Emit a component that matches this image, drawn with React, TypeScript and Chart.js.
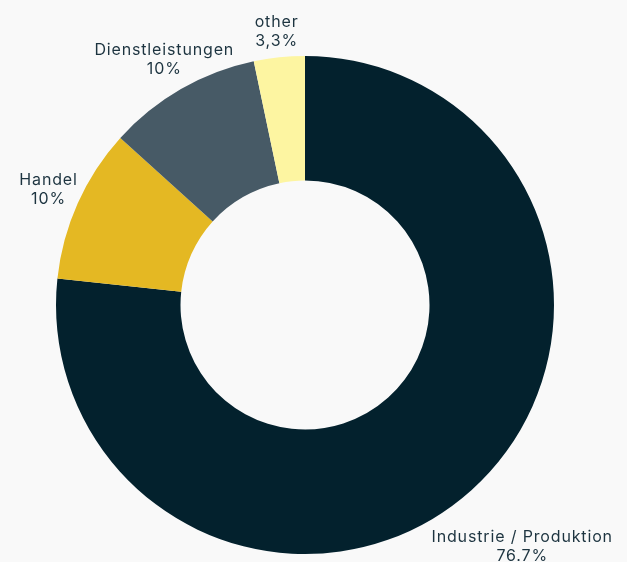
import React, { useEffect, useRef } from "react";
import { Chart, registerables } from "chart.js";

Chart.register(...registerables);

const categories = ["Industrie / Produktion", "Handel", "Dienstleistungen", "other"];
const values = [76.7, 10, 10, 3.3];
const valueLabels = ["76.7%", "10%", "10%", "3,3%"];
const colors = ["#03212d", "#e4b823", "#475a66", "#fdf5a1"];

const labelPlugin = {
  id: "outsideLabels",
  afterDraw(chart: any, _args: any, opts: any) {
    const ctx = chart.ctx;
    const meta = chart.getDatasetMeta(0);
    const fontSize = opts.fontSize || 15;
    const lineH = opts.lineHeight || 20;
    ctx.save();
    ctx.font = `${fontSize}px ${opts.fontFamily}`;
    try {
      (ctx as any).letterSpacing = opts.letterSpacing || "0px";
    } catch (e) {}
    ctx.fillStyle = opts.color;
    ctx.textAlign = "center";
    ctx.textBaseline = "middle";
    meta.data.forEach((arc: any, i: number) => {
      const p = arc.getProps(["x", "y", "startAngle", "endAngle", "outerRadius"], true);
      const mid = (p.startAngle + p.endAngle) / 2;
      const dx = Math.cos(mid);
      const dy = Math.sin(mid);
      const lines = [categories[i], valueLabels[i]];
      const h = lines.length * lineH;
      const r = p.outerRadius + ((opts.offsets && opts.offsets[i]) || 0);
      const cx = p.x + dx * r;
      const cy = p.y + dy * r;
      lines.forEach((l, k) => {
        ctx.fillText(l, cx, cy - h / 2 + lineH / 2 + k * lineH);
      });
    });
    ctx.restore();
  },
};

export default function App() {
  const ref = useRef<HTMLCanvasElement | null>(null);
  useEffect(() => {
    document.body.style.margin = "0";
    document.body.style.background = "#f9f9f9";
    const chart = new Chart(ref.current as HTMLCanvasElement, {
      type: "doughnut",
      data: {
        labels: categories,
        datasets: [
          {
            data: values,
            backgroundColor: colors,
            borderWidth: 0,
          },
        ],
      },
      options: {
        animation: false,
        responsive: false,
        cutout: "50%",
        layout: { padding: { left: 56, right: 73, top: 56, bottom: 8 } },
        plugins: {
          legend: { display: false },
          tooltip: { enabled: false },
          outsideLabels: {
            fontFamily: "Inter, 'Open Sans', sans-serif",
            fontSize: 16,
            letterSpacing: "0.85px",
            lineHeight: 19,
            color: "#1d3440",
            offsets: [76, 32, 33.5, 25.5],
          },
        } as any,
      },
      plugins: [labelPlugin],
    });
    return () => chart.destroy();
  }, []);
  return (
    <div style={{ width: 627, height: 562, background: "#f9f9f9" }}>
      <canvas ref={ref} width={627} height={562} style={{ display: "block" }} />
    </div>
  );
}
